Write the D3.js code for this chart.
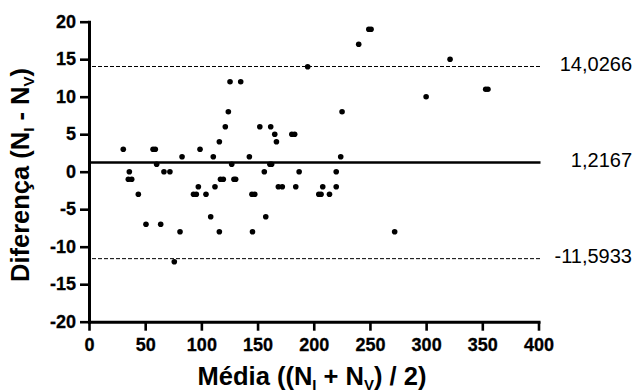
<!DOCTYPE html>
<html>
<head>
<meta charset="utf-8">
<script src="https://cdn.jsdelivr.net/npm/d3@7"></script>
<style>
  html, body { margin: 0; padding: 0; background: #fff; }
  svg { display: block; }
  text { font-family: "Liberation Sans", Arial, sans-serif; fill: #000; }
</style>
</head>
<body>
<svg id="chart" width="638" height="392"></svg>
<script>
// ---- data ----
const meanValues = [30.5, 35.9, 35, 38, 43.9, 50.7, 57, 59, 60.2, 63.8, 66.7, 72, 75.9, 81, 82.8,
  93, 95.5, 97.3, 98.8, 104.1, 108.3, 110.6, 112.1, 116, 116, 117, 119.5, 121.3, 124, 125.5,
  127, 129, 130.5, 135, 142.7, 145, 147.5, 145.5, 152, 156, 157.3, 161, 162.5, 161.7, 165.3,
  166.8, 168.5, 172, 180.5, 183, 184, 187, 194.6, 204.5, 206.5, 208, 214, 220, 220, 224,
  225.2, 240, 249, 251, 272, 300, 321.3, 353, 355];
const diffValues = [3, 0, -1, -1, -3, -7, 3, 3, 1, -7, 0, 0, -12, -8, 2,
  -3, -3, -2, 3, -3, -6, 2, -2, 4, -8, -1, -1, 6, 8, 12,
  1, -1, -1, 12, 2, -3, -3, -8, 6, 0, -6, 1, 1, 6, 5,
  4, -2, -2, 5, 5, -2, 0, 14, -3, -3, -2, -3, 0, -2, 2,
  8, 17, 19, 19, -8, 10, 15, 11, 11];
const refValues = [14.0266, 1.2167, -11.5933];
const refLabels = ["14,0266", "1,2167", "-11,5933"];
const refStyles = ["dashed", "solid", "dashed"];
const xTicks = [0, 50, 100, 150, 200, 250, 300, 350, 400];
const yTicks = [-20, -15, -10, -5, 0, 5, 10, 15, 20];

// ---- layout ----
const svg = d3.select("#chart");
const x = d3.scaleLinear().domain([0, 400]).range([89, 538.5]);
const y = d3.scaleLinear().domain([-20, 20]).range([321.7, 21.7]);

// reference lines
const refG = svg.append("g");
refValues.forEach((v, i) => {
  const solid = refStyles[i] === "solid";
  refG.append("line")
    .attr("x1", x(0) + (solid ? 0 : 3)).attr("x2", x(400) + 2)
    .attr("y1", y(v)).attr("y2", y(v))
    .attr("stroke", "#000")
    .attr("stroke-width", solid ? 2.6 : 1)
    .attr("stroke-dasharray", solid ? null : "4,2");
  refG.append("text")
    .attr("x", 632).attr("y", y(v) - 3)
    .attr("text-anchor", "end")
    .attr("dominant-baseline", "central")
    .attr("font-size", 20)
    .text(refLabels[i]);
});

// points
svg.append("g").selectAll("circle")
  .data(meanValues.map((m, i) => [m, diffValues[i]]))
  .join("circle")
  .attr("cx", d => x(d[0]))
  .attr("cy", d => y(d[1]))
  .attr("r", 2.8)
  .attr("fill", "#000");

// axes
const fmt = d => String(d);
const xAxis = svg.append("g")
  .attr("transform", `translate(0,${y(-20)})`)
  .call(d3.axisBottom(x).tickValues(xTicks).tickFormat(fmt).tickSize(9).tickSizeOuter(0).tickPadding(8));
const yAxis = svg.append("g")
  .attr("transform", `translate(${x(0)},0)`)
  .call(d3.axisLeft(y).tickValues(yTicks).tickFormat(fmt).tickSize(9).tickSizeOuter(0).tickPadding(4));

[xAxis, yAxis].forEach(g => {
  g.select(".domain").attr("stroke", "#000").attr("stroke-width", 3).attr("stroke-linecap", "square");
  g.selectAll(".tick line").attr("stroke", "#000").attr("stroke-width", 2.6);
  g.selectAll(".tick text")
    .attr("font-family", '"Liberation Sans", Arial, sans-serif')
    .attr("font-size", 18).attr("font-weight", "bold").attr("fill", "#000")
    .attr("stroke", "#000").attr("stroke-width", 0.3);
});

// axis titles
const xt = svg.append("text")
  .attr("x", 312).attr("y", 385)
  .attr("text-anchor", "middle")
  .attr("font-size", 25.5).attr("font-weight", "bold");
xt.append("tspan").text("Média ((N");
xt.append("tspan").attr("dy", 5).attr("font-size", 15).text("I");
xt.append("tspan").attr("dy", -5).text(" + N");
xt.append("tspan").attr("dy", 5).attr("font-size", 15).text("V");
xt.append("tspan").attr("dy", -5).text(") / 2)");

const yt = svg.append("text")
  .attr("transform", "translate(29,175) rotate(-90)")
  .attr("text-anchor", "middle")
  .attr("font-size", 25.5).attr("font-weight", "bold");
yt.append("tspan").text("Diferença (N");
yt.append("tspan").attr("dy", 5).attr("font-size", 15).text("I");
yt.append("tspan").attr("dy", -5).text(" - N");
yt.append("tspan").attr("dy", 5).attr("font-size", 15).text("V");
yt.append("tspan").attr("dy", -5).text(")");
</script>
</body>
</html>
